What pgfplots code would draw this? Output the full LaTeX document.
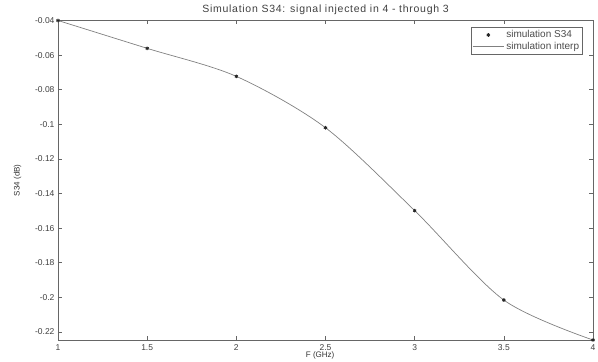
\documentclass[border=0pt]{standalone}
\usepackage{fontspec}
\setmainfont{Liberation Sans}
\usepackage{pgfplots}
\pgfplotsset{compat=1.18}
\pgfplotsset{
  longmark legend/.style={legend image code/.code={\draw[##1, mark repeat=2, mark phase=2]
      plot coordinates {(0cm,0cm)(0.55cm,0cm)(1.1cm,0cm)};}},
  longline legend/.style={legend image code/.code={\draw[##1] (0cm,0cm) -- (1.1cm,0cm);}},
}

\begin{document}
\begin{tikzpicture}[x=1pt,y=1pt]
  \path[use as bounding box] (-58,-22) rectangle (540,340);
  \begin{axis}[
    at={(0,0)}, anchor=south west,
    scale only axis, width=535pt, height=319.5pt,
    xmin=1, xmax=4, ymin=-0.2247, ymax=-0.04,
    xtick={1,1.5,2,2.5,3,3.5,4},
    ytick={-0.22,-0.2,-0.18,-0.16,-0.14,-0.12,-0.1,-0.08,-0.06,-0.04},
    yticklabels={-0.22,-0.2,-0.18,-0.16,-0.14,-0.12,-0.1,-0.08,-0.06,-0.04},
    xticklabels={1,1.5,2,2.5,3,3.5,4},
    tick align=inside, tick pos=both, major tick length=4pt,
    axis line style={black!60, line width=0.8pt},
    every tick/.style={black!60, line width=0.6pt},
    tick label style={font=\fontsize{8.5}{9}\selectfont, text=black!75},
    xticklabel style={yshift=-1pt},
    title={Simulation S34: signal injected in 4 - through 3},
    title style={font=\fontsize{10.5}{12}\selectfont\addfontfeature{LetterSpace=7},
      text=black!75, yshift=-4pt},
    xlabel={F (GHz)},
    ylabel={S34 (dB)},
    label style={font=\fontsize{8}{9}\selectfont, text=black!80},
    xlabel style={at={(axis description cs:0.49,0)}, anchor=center, yshift=-15pt},
    ylabel style={yshift=7pt},
    legend style={at={(0.981,0.980)}, anchor=north east, draw=black!60,
      font=\fontsize{10}{11}\selectfont, text=black!70, inner sep=1.5pt,
      row sep=-1pt},
    legend cell align=left,
  ]
  \addplot[only marks, mark=asterisk, mark size=1.8pt, black!85, line width=0.9pt,
    longmark legend]
    coordinates {(1,-0.0400)(1.5,-0.0561)(2,-0.0723)(2.5,-0.1020)
                 (3,-0.1499)(3.5,-0.2016)(4,-0.2247)};
  \addlegendentry{simulation S34}
  \addplot[black!50, line width=0.7pt, smooth, tension=0.5, longline legend]
    coordinates {(1,-0.0400)(1.5,-0.0561)(2,-0.0723)(2.5,-0.1020)
                 (3,-0.1499)(3.5,-0.2016)(4,-0.2247)};
  \addlegendentry{simulation interp}
  \end{axis}
\end{tikzpicture}
\end{document}
